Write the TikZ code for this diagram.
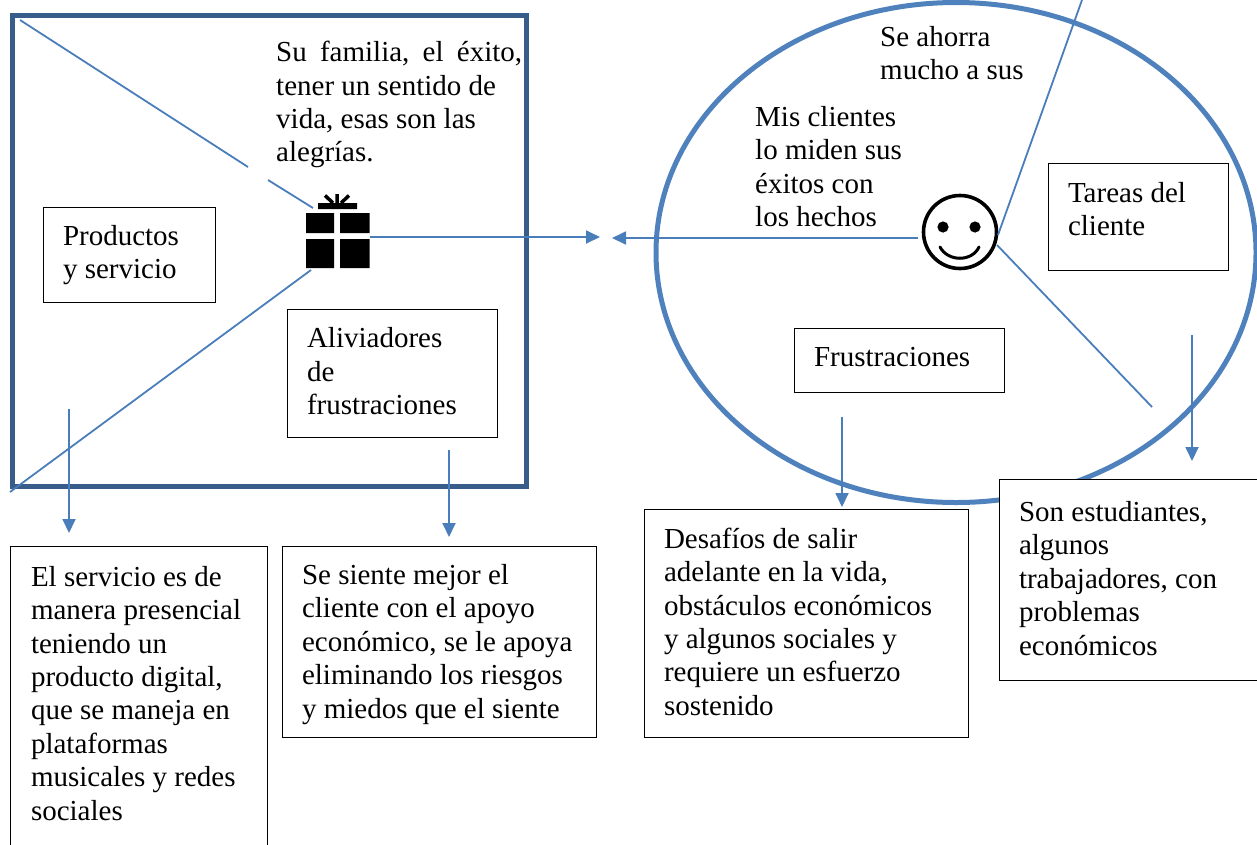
\documentclass[tikz,border=0pt]{standalone}
\usepackage{fontspec}
\setmainfont{Liberation Serif}
\usetikzlibrary{arrows.meta}
\definecolor{framec}{HTML}{385D8A}
\definecolor{ringc}{HTML}{4F81BD}
\definecolor{linec}{HTML}{4A7EBB}
\tikzset{
  txt/.style={align=left,inner sep=0pt,font=\fontsize{29}{33.4}\selectfont,text=black},
  tbox/.style={inner sep=0pt,font=\fontsize{29}{33.4}\selectfont,text=black,draw=black,line width=1pt,fill=white,anchor=center},
  conn/.style={draw=linec,line width=1.8pt},
  arr/.style={conn,-{Triangle[length=14pt,width=13pt,fill=linec]}},
}
% name x1 y1 x2 y2 pad dy text
\newcommand{\boxat}[8]{%
  \node[tbox,minimum width=#4pt-#2pt,minimum height=#5pt-#3pt] (#1) at ({(#2+#4)/2},{(#3+#5)/2})
  {\makebox[\dimexpr#4pt-#2pt\relax][l]{\hspace*{#6pt}\raisebox{\dimexpr#7pt-7.25pt\relax}[0pt][0pt]{\begin{tabular}[c]{@{}l@{}}#8\end{tabular}}}};}
\begin{document}
\begin{tikzpicture}[x=1pt,y=-1pt]
\useasboundingbox (0,0) rectangle (1257,844);
% containers
\node[draw=framec,line width=5pt,minimum width=514pt,minimum height=471pt] (frame) at (269,250.5) {};
\draw[draw=ringc,line width=5pt] (956,252.5) ellipse [x radius=300,y radius=250];
% free texts
\node[txt,anchor=north west] (alegrias) at (276,41) {Su\hspace{6pt} familia,\hspace{6pt} el\hspace{6pt} éxito,\\tener un sentido de\\vida, esas son las\\alegrías.};
\node[txt,anchor=north west] (ahorra) at (880,26) {Se ahorra\\mucho a sus};
\node[txt,anchor=north west] (clientes) at (755,106) {Mis clientes\\lo miden sus\\éxitos con\\los hechos};
% gift
\node[minimum width=64pt,minimum height=66pt,inner sep=0pt] (gift) at (338,236) {};
\fill[black] (306,213) rectangle (334,233) (340,213) rectangle (369.5,233)
             (306,239) rectangle (334,268) (340,239) rectangle (369.5,268)
             (318,203) rectangle (357,209);
\draw[black,line width=3.5pt] (337,203) -- (337,194) (333,203) -- (325,195.5) (341,203) -- (349,195.5);
% smiley
\node[circle,draw=black,line width=3.6pt,minimum size=73pt,inner sep=0pt] (smile) at (960,232) {};
\fill[black] (943,227) circle (5.6) (975,227) circle (5.6);
\draw[black,line width=3pt,line cap=round] (940,247) .. controls (948,262) and (972,262) .. (979,247);
% boxes
\boxat{productos}{43}{207}{215}{302}{20}{0}{Productos\\y servicio}
\boxat{aliviadores}{287}{309}{497}{437}{20}{-0.5}{Aliviadores\\de\\frustraciones}
\boxat{tareas}{1048}{163}{1228}{270}{20}{5.5}{Tareas del\\cliente}
\boxat{frustra}{794}{328}{1004}{392}{20}{1}{Frustraciones}
\boxat{servicio}{10}{546}{267}{845}{21}{0}{El servicio es de\\manera presencial\\teniendo un\\producto digital,\\que se maneja en\\plataformas\\musicales y redes\\sociales}
\boxat{siente}{282}{546}{596}{737}{20}{-2}{Se siente mejor el\\cliente con el apoyo\\económico, se le apoya\\eliminando los riesgos\\y miedos que el siente}
\boxat{desafios}{644}{509}{968}{737}{20}{-1}{Desafíos de salir\\adelante en la vida,\\obstáculos económicos\\y algunos sociales y\\requiere un esfuerzo\\sostenido}
\boxat{estudiantes}{999}{479}{1257}{680}{20}{-1}{Son estudiantes,\\algunos\\trabajadores, con\\problemas\\económicos}
% free connector ends
\coordinate (c1) at (20,20);
\coordinate (c2) at (248,167);
\coordinate (c3) at (268,180);
\coordinate (c4) at (313,208);
\coordinate (c5) at (10,492);
\coordinate (c6) at (311,270);
\coordinate (mid1) at (600,237);
\coordinate (mid2) at (612,238);
\coordinate (s1) at (918,238);
\coordinate (s2) at (1082,0);
\coordinate (s3) at (998,235);
\coordinate (s4) at (997,245);
\coordinate (s5) at (1152,407);
\coordinate (a1s) at (69,409);
\coordinate (a1e) at (69,533);
\coordinate (a2s) at (449,450);
\coordinate (a2e) at (449,537);
\coordinate (a3s) at (842,417);
\coordinate (a3e) at (842,507);
\coordinate (a4s) at (1192,335);
\coordinate (a4e) at (1192,461);
% connectors
\draw[conn] (c1) -- (c2);
\draw[conn] (c3) -- (c4);
\draw[conn] (c5) -- (c6);
\draw[arr] (gift.east |- mid1) -- (mid1);
\draw[arr] (s1) -- (mid2);
\draw[conn] (s2) -- (s3);
\draw[conn] (s4) -- (s5);
\draw[arr] (a1s) -- (a1e);
\draw[arr] (a2s) -- (a2e);
\draw[arr] (a3s) -- (a3e);
\draw[arr] (a4s) -- (a4e);
\end{tikzpicture}
\end{document}
